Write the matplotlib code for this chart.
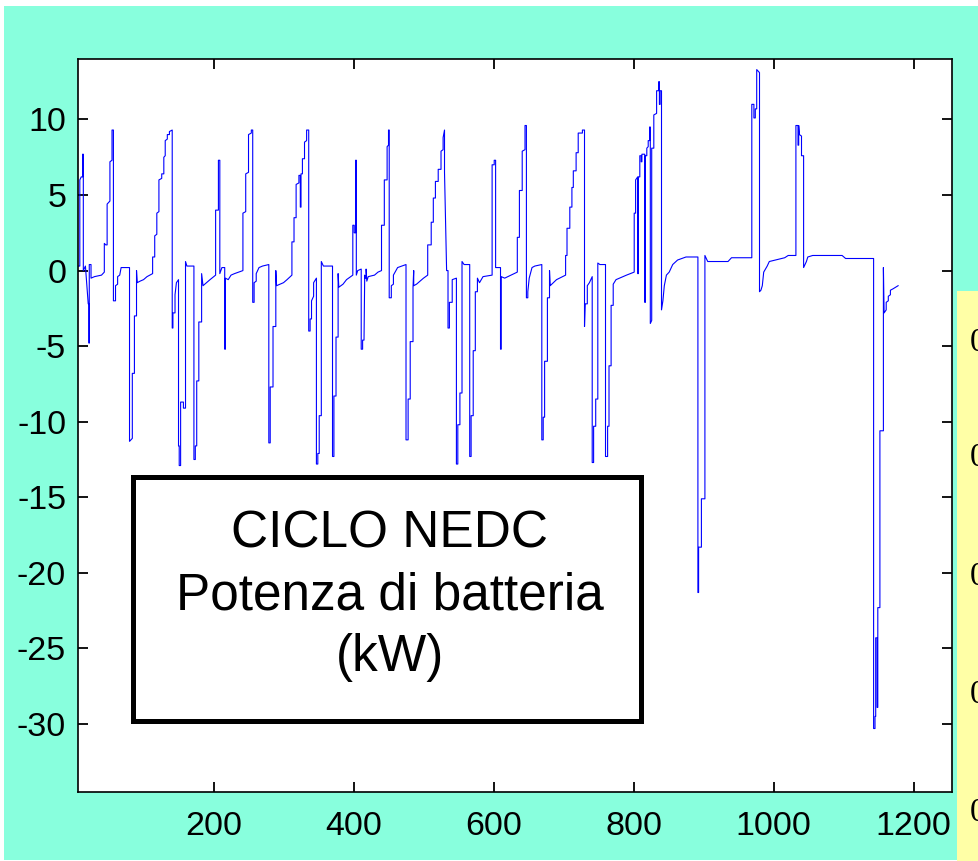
import matplotlib
matplotlib.use('Agg')
import matplotlib.pyplot as plt
from matplotlib.patches import Rectangle

# ── Data: battery power (kW) vs time (s), NEDC cycle ──
ece1 = [(6, 0.3), (9, 0.3), (9, 6.0), (11, 6.2), (13, 6.2), (13, 7.7), (14, 7.7),
        (14, 0.0), (17, 0.3), (21, -2.2), (22, -2.2), (22, -4.8), (22.5, -4.8),
        (22.5, 0.4), (25, 0.4), (25, -0.5), (30, -0.4), (40, -0.3), (44, -0.1),
        (44, 1.8), (46, 1.7), (48, 1.7), (48, 4.4), (52, 4.6), (52, 7.2), (55, 7.3),
        (55, 9.3), (57, 9.3), (57, -2.0), (60, -2.0), (60, -1.0), (63, -0.9),
        (63, -0.4), (66, -0.3), (68, 0.2), (80, 0.2), (80, -11.3), (84, -11.1),
        (84, -6.8), (87, -6.8), (87, -3.0), (90, -3.0), (90, 0.0), (91, -0.8),
        (95, -0.7), (100, -0.6), (105, -0.4), (113, -0.2),
        (113, 0.9), (116, 0.9), (116, 2.3), (119, 2.4), (119, 3.8), (122, 3.9),
        (122, 6.0), (126, 6.1), (126, 6.4), (129, 6.4), (129, 7.5), (131, 7.6),
        (131, 8.6), (134, 8.7), (134, 9.0), (137, 9.0), (137, 9.2), (141, 9.3),
        (141, -3.8), (142, -3.8), (142, -2.8), (145, -2.8), (145, -1.6), (147, -0.8),
        (150, -0.6), (150, -11.6), (151, -11.6), (151, -12.9), (153, -12.9),
        (153, -8.7), (157, -8.7), (157, -9.1), (160, -9.1), (160, 0.6), (162, 0.3),
        (172, 0.3), (172, -12.5), (174, -12.5), (174, -11.6), (176, -11.6),
        (176, -7.3), (179, -7.3), (179, -3.4), (183, -3.4), (183, -0.2), (185, -1.0),
        (190, -0.8), (195, -0.6), (203, -0.3)]

ece2 = [(203, 4.0), (207, 4.0), (207, 7.3), (209, 7.3), (209, -0.2), (212, 0.2),
        (216, 0.2), (216, -5.2), (217, -5.2), (217, -0.5), (221, -0.6), (225, -0.3),
        (230, -0.2), (242, 0.0), (242, 3.8), (246, 3.9), (246, 6.4), (250, 6.5),
        (250, 9.0), (254, 9.1), (254, 9.3), (256, 9.3), (256, -2.1), (258, -2.1),
        (258, -0.8), (261, -0.7), (261, -0.2), (265, 0.2), (270, 0.3), (279, 0.4),
        (279, -11.4), (281, -11.4), (281, -7.7), (285, -7.7), (285, -3.7),
        (289, -3.7), (289, 0.0), (290, -1.0), (300, -0.8), (305, -0.6), (312, -0.3),
        (312, 1.9), (315, 1.9), (315, 3.5), (318, 3.5), (318, 5.7), (322, 5.8),
        (322, 6.3), (324, 6.3), (324, 4.2), (325, 4.2), (325, 6.4), (327, 6.4),
        (327, 7.4), (330, 7.4), (330, 8.5), (333, 8.6), (333, 9.3), (336, 9.3),
        (336, -4.0), (338, -4.0), (338, -3.2), (340, -3.2), (340, -2.0), (343, -1.7),
        (343, -0.8), (347, -0.5), (347, -12.8), (349, -12.8), (349, -12.1),
        (351, -12.1), (351, -9.6), (354, -9.6), (354, 0.6), (357, 0.3), (370, 0.3),
        (370, -12.3), (372, -12.3), (372, -8.3), (375, -8.3), (375, -4.4),
        (378, -4.4), (378, -0.2), (379, -1.1), (385, -0.9), (390, -0.6), (399, -0.3)]

ece3 = [(399, 3.0), (401, 3.0), (401, 2.5), (403, 2.5), (403, 7.3), (404, 7.3),
        (404, -0.3), (406, 0.0), (411, 0.1), (411, -5.2), (413, -5.2), (413, -4.6),
        (415, -4.6), (416, -0.3), (416, -0.5), (418, -0.5), (418, 0.1), (419, -0.7),
        (421, -0.4), (430, -0.3), (435, -0.1), (440, 0.0), (440, 3.0), (444, 3.0),
        (444, 6.0), (448, 6.0), (448, 8.2), (450, 8.3), (450, 9.3), (451, 9.3),
        (451, -1.8), (454, -1.8), (454, -1.0), (457, -0.9), (457, -0.3), (463, 0.2),
        (475, 0.4), (475, -11.2), (478, -11.2), (478, -8.5), (481, -8.5),
        (481, -4.7), (485, -4.7), (485, -1.1), (486, 0.0), (486, -1.0), (490, -0.9),
        (500, -0.5), (506, -0.3), (506, 1.7), (511, 1.7), (511, 3.2), (514, 3.2),
        (514, 4.8), (517, 4.8), (517, 5.9), (521, 5.9), (521, 6.7), (525, 6.7),
        (525, 7.9), (528, 8.0), (528, 8.8), (530, 9.3), (530, 6.5), (533, 0.0),
        (535, 0.0), (535, -3.8), (537, -3.8), (537, -2.1), (541, -2.1), (541, -0.6),
        (547, -0.5), (547, -12.8), (549, -12.8), (549, -10.2), (552, -10.2),
        (552, -8.1), (555, -8.1), (555, 0.6), (558, 0.4), (566, 0.4), (566, -12.3),
        (568, -12.3), (568, -9.6), (571, -9.6), (571, -5.3), (574, -5.3),
        (574, -1.4), (577, -1.4), (577, -0.5), (580, -0.8), (585, -0.4), (598, -0.3)]

ece4 = [(598, 7.0), (601, 7.0), (601, 7.3), (603, 7.3), (603, 0.2), (610, 0.2),
        (610, -5.2), (611, -5.2), (611, -0.4), (616, -0.5), (625, -0.3), (634, -0.1),
        (634, 2.2), (637, 2.2), (637, 5.3), (641, 5.3), (641, 7.9), (645, 8.0),
        (645, 9.6), (647, 9.6), (647, -1.8), (649, -1.8), (649, -1.4), (651, -0.5),
        (655, 0.2), (659, 0.3), (669, 0.4), (669, -11.2), (671, -11.2), (671, -9.7),
        (673, -9.7), (673, -6.0), (677, -6.0), (677, -1.8), (680, -1.8), (680, 0.0),
        (681, -1.0), (690, -0.6), (703, -0.3), (703, 1.0), (705, 1.0), (705, 2.8),
        (709, 2.8), (709, 4.2), (712, 4.2), (712, 5.5), (714, 5.5), (714, 6.6),
        (718, 6.6), (718, 7.8), (721, 7.8), (721, 9.1), (727, 9.1), (727, 9.3),
        (730, 9.3), (730, -3.7), (731, -2.2), (734, -2.2), (734, -1.0), (737, -0.8),
        (741, -0.4), (741, -12.7), (743, -12.7), (743, -10.3), (746, -10.3),
        (746, -8.5), (749, -8.5), (749, 0.5), (752, 0.4), (760, 0.4), (760, -12.3),
        (763, -12.3), (763, -10.3), (765, -10.3), (765, -6.3), (768, -6.3),
        (768, -2.3), (771, -2.3), (771, -0.9), (775, -0.6), (790, -0.3), (801, -0.1)]

eudc = [(801, 3.8), (803, 3.8), (803, 6.0), (806, 6.2), (806, -0.2), (807, -0.2),
        (807, 6.2), (809, 6.2), (809, 7.6), (811, 7.6), (811, 7.2), (812, 7.2),
        (812, 7.7), (816, 7.7), (816, -2.1), (817, -2.1), (817, 7.6), (819, 7.6),
        (819, 8.1), (821, 8.2), (821, 8.6), (823, 8.6), (823, 9.5), (824, 9.5),
        (824, -3.5), (826, -3.3), (826, 8.1), (829, 8.1), (829, 10.3), (833, 10.4),
        (833, 11.9), (836, 11.9), (836, 12.5), (837, 12.5), (837, 11.0), (838, 11.0),
        (838, 11.9), (840, 11.9), (840, -2.6), (842, -2.0), (844, -1.0), (847, -0.3),
        (851, -0.1), (856, 0.4), (863, 0.7), (875, 0.9), (892, 0.9), (892, -21.3),
        (893, -21.3), (893, -18.3), (897, -18.3), (897, -15.1), (902, -15.1),
        (902, 1.0), (906, 0.6), (935, 0.6), (940, 0.85), (969, 0.85), (969, 11.0),
        (972, 11.0), (972, 10.1), (974, 10.1), (974, 10.7), (976, 10.7), (976, 13.3),
        (980, 13.1), (980, -1.4), (982, -1.3), (984, -1.0), (986, -0.1), (991, 0.3),
        (994, 0.6), (1016, 0.85), (1021, 1.0), (1032, 1.0), (1032, 9.6), (1035, 9.6),
        (1035, 8.3), (1036, 8.3), (1036, 9.6), (1037, 9.0), (1040, 8.9), (1040, 7.6),
        (1043, 7.6), (1043, 0.2), (1047, 0.6), (1049, 0.9), (1056, 1.0), (1098, 1.0),
        (1103, 0.8), (1143, 0.8), (1143, -30.3), (1145, -30.3), (1145, -29.5),
        (1146, -29.5), (1146, -24.3), (1148, -24.3), (1148, -28.9), (1149, -28.9),
        (1149, -22.3), (1152, -22.3), (1152, -10.6), (1157, -10.6), (1157, 0.2),
        (1158, -2.8), (1161, -2.6), (1161, -2.1), (1164, -2.0), (1164, -1.7),
        (1167, -1.6), (1167, -1.3), (1171, -1.2), (1178, -1.0)]

x_ticks = [200, 400, 600, 800, 1000, 1200]
y_ticks = [-30, -25, -20, -15, -10, -5, 0, 5, 10]
box_lines = ['CICLO NEDC', 'Potenza di batteria', '(kW)']

# ── Look ─────────────────────────────────────────────────────────────────────
W, H = 979, 861
AQUA = '#88ffdd'
YELLOW = '#ffffa6'
SANS = 'Liberation Sans'


def fx(px):
    return px / W


def fy(py):
    return 1 - py / H


plt.rcParams['axes.unicode_minus'] = False
fig = plt.figure(figsize=(W / 100, H / 100), dpi=100)
fig.patch.set_facecolor('white')

# slide background, with the thin white frame at top/left
fig.add_artist(Rectangle((fx(4), fy(860)), fx(979) - fx(4), fy(6) - fy(860),
                         transform=fig.transFigure, facecolor=AQUA,
                         edgecolor='none', zorder=-10))
# pale yellow panel peeking in at the right edge; its labels are cut by the edge
fig.add_artist(Rectangle((fx(957), 0), 1 - fx(957), fy(291),
                         transform=fig.transFigure, facecolor=YELLOW,
                         edgecolor='none', zorder=-9))
for py in (343, 458, 577, 695, 813):
    fig.text(fx(970), fy(py), '0', ha='left', va='center', fontsize=24,
             family='Liberation Serif', color='black')

ax = fig.add_axes([fx(78), fy(792), fx(952) - fx(78), fy(59) - fy(792)])
ax.set_facecolor('white')

t = []
p = []
for seg in (ece1, ece2, ece3, ece4, eudc):
    t += [a for a, _ in seg]
    p += [b for _, b in seg]
ax.plot(t, p, color='#0000ff', linewidth=0.8)

ax.set_xlim(6.4, 1255)
ax.set_ylim(-34.5, 14)
ax.set_xticks(x_ticks)
ax.set_yticks(y_ticks)
for s in ax.spines.values():
    s.set_linewidth(1.2)
ax.tick_params(direction='in', length=7, width=1.3, top=True, right=True,
               labelsize=24.5, colors='black')
ax.tick_params(axis='x', pad=14)
ax.tick_params(axis='y', pad=8.5)
for lab in ax.get_xticklabels() + ax.get_yticklabels():
    lab.set_family(SANS)

# label box
fig.add_artist(Rectangle((fx(132.5), fy(720.5)), fx(640.5) - fx(132.5),
                         fy(476.5) - fy(720.5), transform=fig.transFigure,
                         facecolor='none', edgecolor='black', linewidth=3.6,
                         zorder=5))
for txt, base in zip(box_lines, (548, 609, 671)):
    fig.text(fx(390), fy(base), txt, ha='center', va='baseline',
             fontsize=37, family=SANS, color='black', zorder=6)

fig.savefig('out.png', dpi=100, facecolor=fig.get_facecolor())
